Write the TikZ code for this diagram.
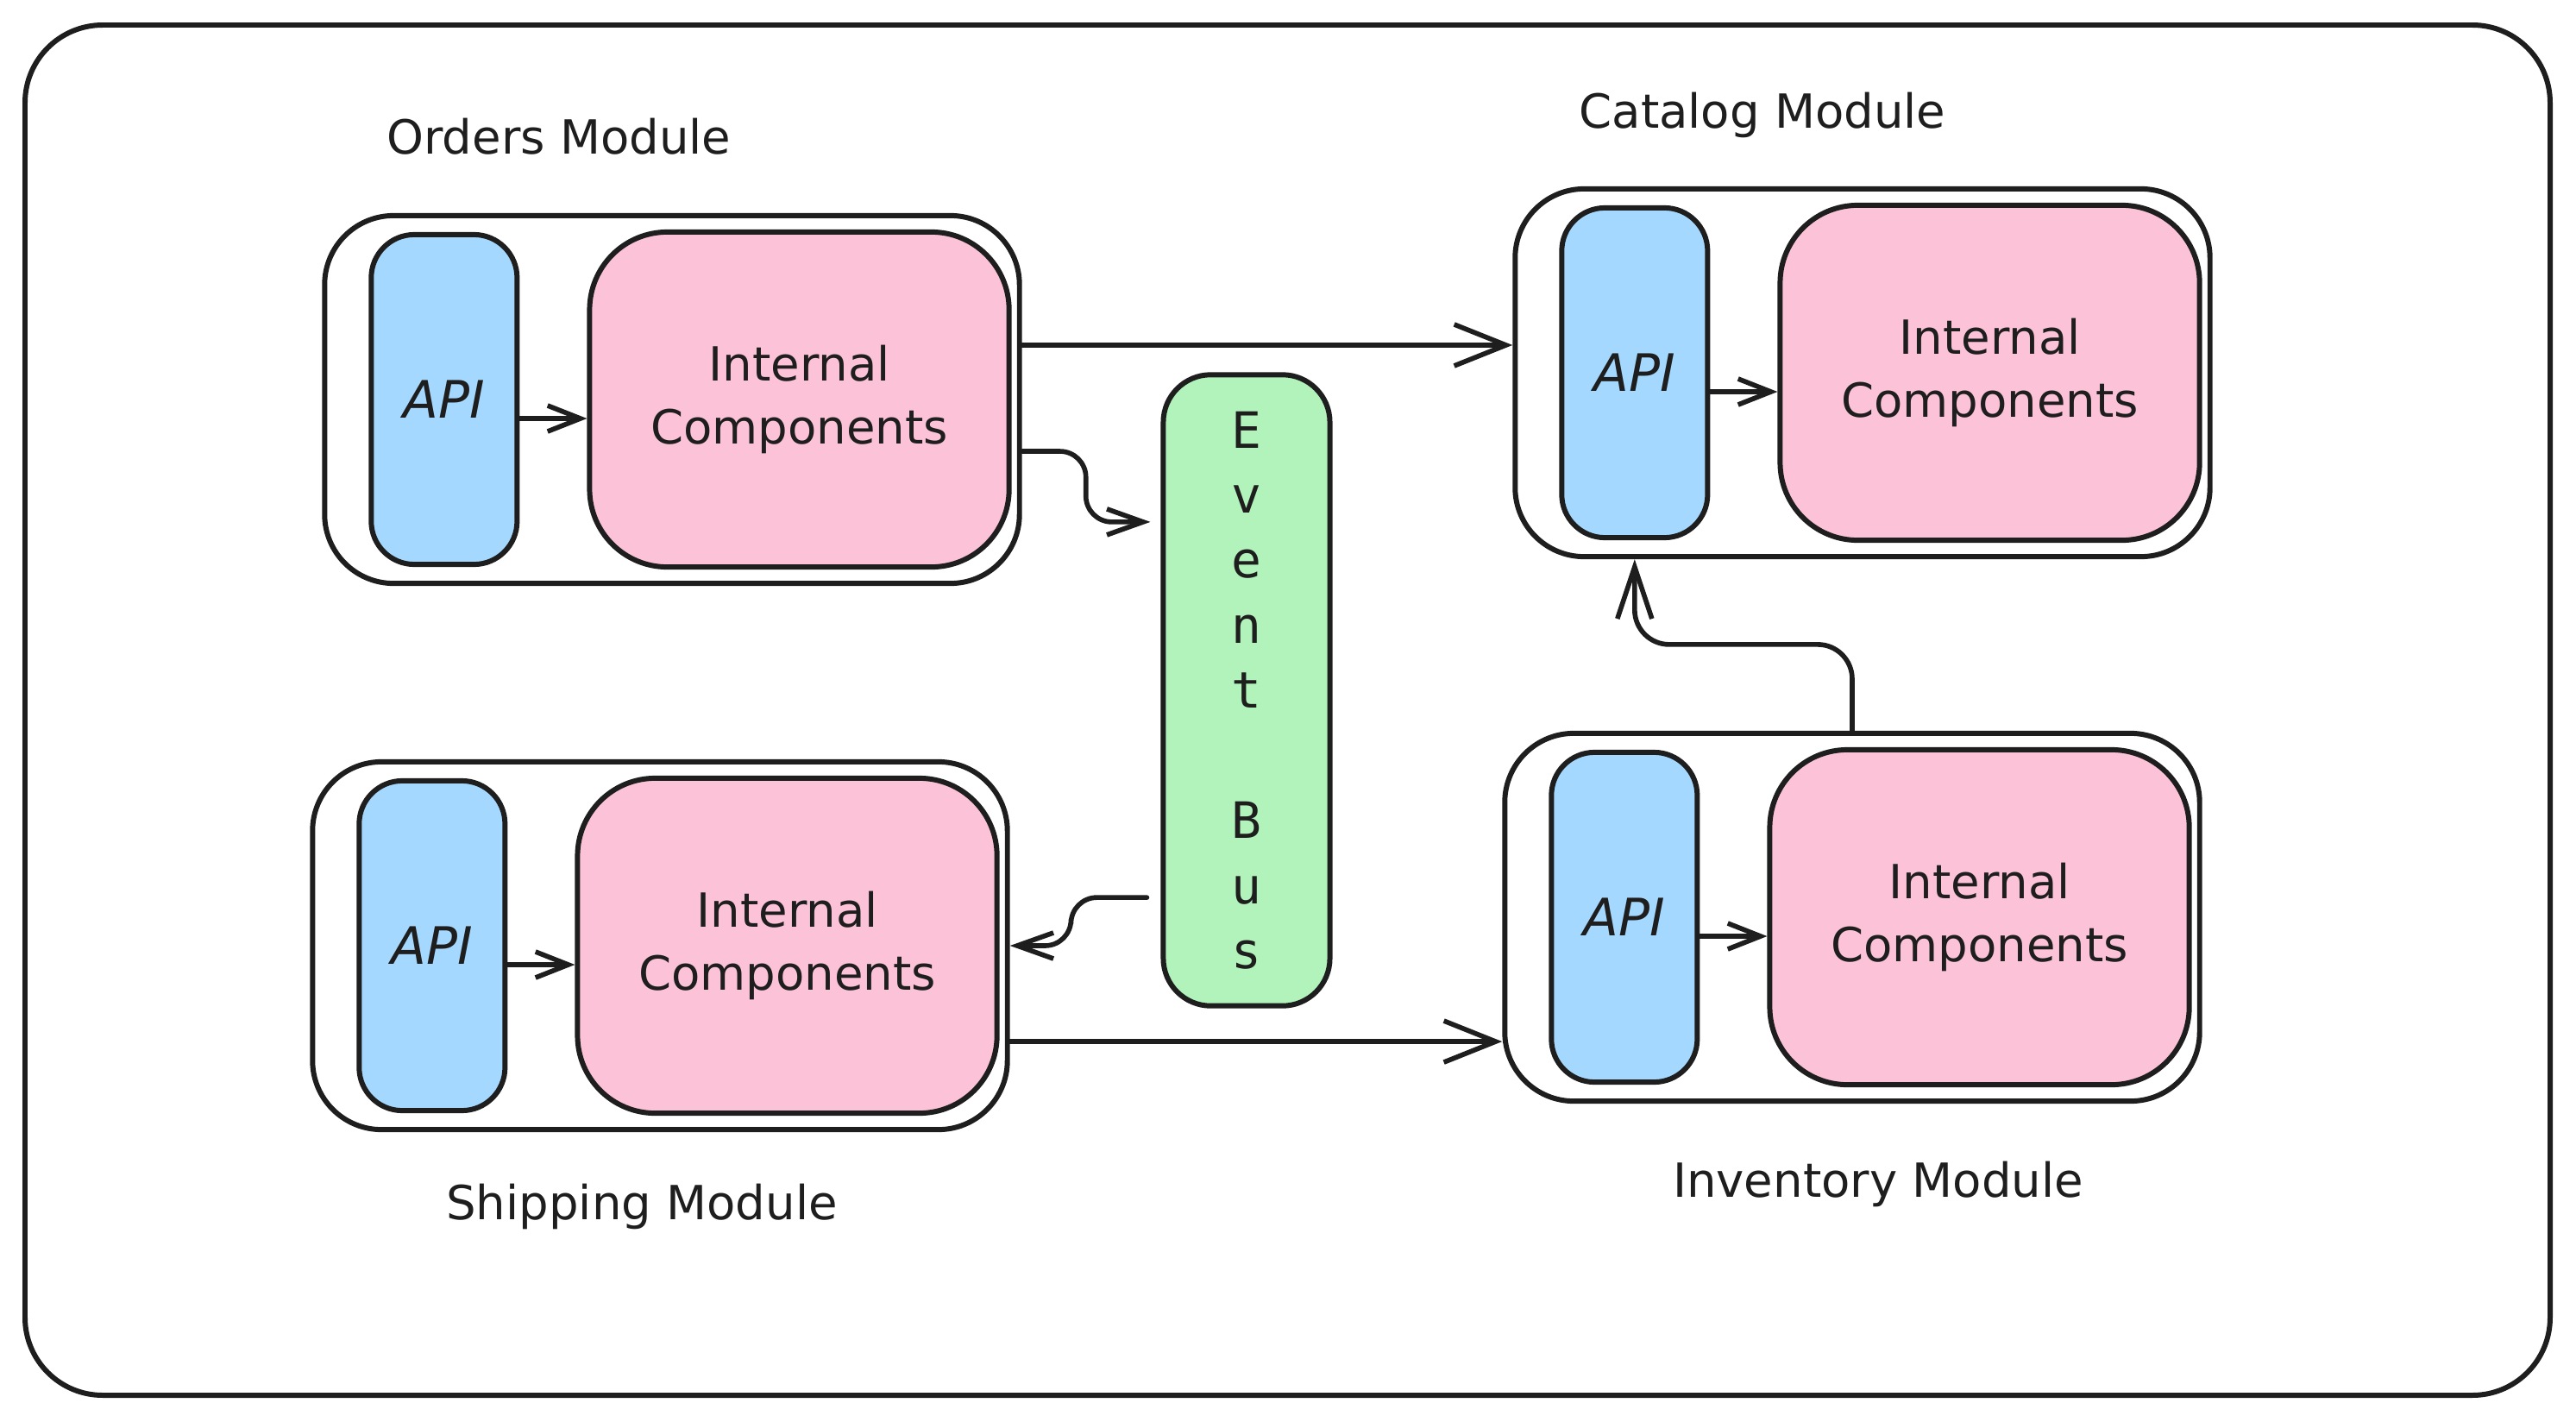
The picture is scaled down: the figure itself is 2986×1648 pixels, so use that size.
\documentclass[tikz,border=0pt]{standalone}
\usepackage{fontspec}
\setmainfont{DejaVu Sans}
\setmonofont{DejaVu Sans Mono}
\usepackage{xcolor}
\usepackage{tikz}
\usetikzlibrary{positioning,arrows.meta}
\definecolor{InkBlack}{RGB}{30,30,30}
\definecolor{ApiBlue}{RGB}{165,216,255}
\definecolor{InternalPink}{RGB}{252,194,215}
\definecolor{BusGreen}{RGB}{178,242,187}
\tikzset{
    modulebox/.style={rectangle, rounded corners=0.8cm, draw=InkBlack, line width=1.7pt, minimum width=8.05cm, minimum height=4.26cm, inner sep=0pt},
    apibox/.style={rectangle, rounded corners=0.5cm, draw=InkBlack, fill=ApiBlue, line width=1.7pt, minimum width=1.69cm, minimum height=3.82cm, inner sep=0pt, text=InkBlack, font=\fontsize{17}{20}\selectfont\itshape},
    internalbox/.style={rectangle, rounded corners=0.9cm, draw=InkBlack, fill=InternalPink, line width=1.7pt, minimum width=4.86cm, minimum height=3.88cm, inner sep=0pt, align=center, text=InkBlack, font=\fontsize{15.5}{20.8}\selectfont},
    modlabel/.style={anchor=base, inner sep=0pt, text=InkBlack, font=\fontsize{15.5}{19}\selectfont},
    flow/.style={draw=InkBlack, line width=1.6pt, line cap=round, line join=round, -{Straight Barb[length=0.6cm, width=0.48cm]}}
}

\begin{document}
\begin{tikzpicture}[x=0.01cm, y=-0.01cm,
                % Event bus: tall green box, one letter per line
                busbox/.style={
                    rectangle,
                    rounded corners=0.55cm,
                    draw=InkBlack,
                    fill=BusGreen,
                    line width=1.7pt,
                    minimum width=1.93cm,
                    minimum height=7.31cm,
                    align=center,
                    text=InkBlack,
                    font=\fontsize{16.5}{21.45}\selectfont\ttfamily
                },
                % Short arrows between API and internals
                smallflow/.style={
                    flow,
                    -{Straight Barb[length=0.38cm, width=0.3cm]}
                }
            ]
                \useasboundingbox (0,0) rectangle (2986,1648);
                \draw[draw=InkBlack, line width=1.7pt, rounded corners=0.9cm] (29,29) rectangle (2956,1617);

                % Orders module
                \node[modulebox] (orders) at (779,463) {};
                \node[apibox, right=0.54cm of orders.west] (ordersapi) {API};
                \node[internalbox, right=0.78cm of ordersapi] (ordersinternal) {Internal\\Components};
                \node[modlabel] (orderslabel) at (648,178) {Orders Module};

                % Catalog module
                \node[modulebox] (catalog) at (2159,432) {};
                \node[apibox, right=0.54cm of catalog.west] (catalogapi) {API};
                \node[internalbox, right=0.78cm of catalogapi] (cataloginternal) {Internal\\Components};
                \node[modlabel] (cataloglabel) at (2043,148) {Catalog Module};

                % Shipping module
                \node[modulebox] (shipping) at (765,1096) {};
                \node[apibox, right=0.54cm of shipping.west] (shippingapi) {API};
                \node[internalbox, right=0.78cm of shippingapi] (shippinginternal) {Internal\\Components};
                \node[modlabel] (shippinglabel) at (744,1413) {Shipping Module};

                % Inventory module
                \node[modulebox] (inventory) at (2147,1063) {};
                \node[apibox, right=0.54cm of inventory.west] (inventoryapi) {API};
                \node[internalbox, right=0.78cm of inventoryapi] (inventoryinternal) {Internal\\Components};
                \node[modlabel] (inventorylabel) at (2177,1387) {Inventory Module};

                % Event bus
                \node[busbox] (bus) at (1445,800) {E\\v\\e\\n\\t\\\mbox{}\\B\\u\\s};

                % API -> internal components
                \draw[smallflow] ([yshift=-0.22cm]ordersapi.east) -- ([yshift=-0.22cm]ordersapi.east -| ordersinternal.west);
                \draw[smallflow] ([yshift=-0.22cm]catalogapi.east) -- ([yshift=-0.22cm]catalogapi.east -| cataloginternal.west);
                \draw[smallflow] ([yshift=-0.22cm]shippingapi.east) -- ([yshift=-0.22cm]shippingapi.east -| shippinginternal.west);
                \draw[smallflow] ([yshift=-0.22cm]inventoryapi.east) -- ([yshift=-0.22cm]inventoryapi.east -| inventoryinternal.west);

                % Links between modules
                \draw[flow] ([yshift=0.63cm]orders.east) -- ([yshift=0.63cm]orders.east -| catalog.west);
                \draw[flow] ([yshift=-1.11cm]shipping.east) -- ([yshift=-1.11cm]shipping.east -| inventory.west);
                \draw[flow, rounded corners=0.4cm, -{Straight Barb[length=0.6cm, width=0.4cm]}] (inventory.north) -- ++(0,-100) -| (catalogapi |- catalog.south);

                % Through the event bus
                \draw[flow, rounded corners=0.3cm, shorten >=0.12cm, -{Straight Barb[length=0.42cm, width=0.3cm]}] ([yshift=-0.6cm]orders.east) -- ++(74,0) |- ([yshift=1.95cm]bus.west);
                \draw[flow, rounded corners=0.3cm, shorten <=0.16cm, -{Straight Barb[length=0.42cm, width=0.3cm]}] ([yshift=-2.4cm]bus.west) -- ++(-104,0) |- (shipping.east);
            \end{tikzpicture}
\end{document}
